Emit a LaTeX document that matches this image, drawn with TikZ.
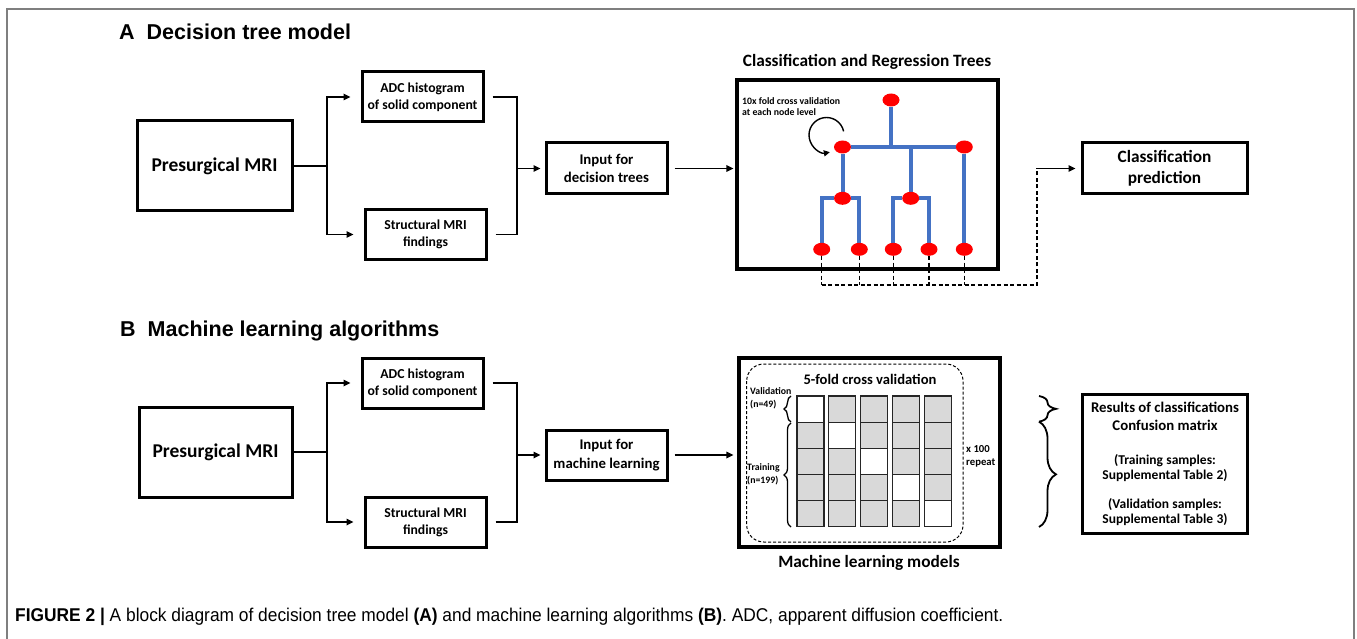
\documentclass[tikz,border=0pt]{standalone}
\usepackage{fontspec}
\usepackage{graphicx}
\newfontfamily\carl{Carlito}
\newfontfamily\arl{Liberation Sans}
\usetikzlibrary{arrows.meta,shapes.geometric,decorations.pathreplacing,backgrounds}
\definecolor{treeblue}{HTML}{4472C4}
\definecolor{cellgray}{HTML}{D9D9D9}
\definecolor{framegray}{HTML}{7F7F7F}
\newcommand\fBig{\carl\bfseries\fontsize{19.5}{23}\selectfont}
\newcommand\fMid{\carl\bfseries\fontsize{13.7}{16.7}\selectfont}
\newcommand\fIn{\carl\bfseries\fontsize{14.8}{18.3}\selectfont}
\newcommand\fHead{\carl\bfseries\fontsize{17.3}{20.7}\selectfont}
\newcommand\fTiny{\carl\bfseries\fontsize{9.8}{11.7}\selectfont}
\newcommand\fSmallLbl{\carl\bfseries\fontsize{9.8}{13}\selectfont}
\begin{document}
\begin{tikzpicture}[x=1pt,y=1pt,
  box/.style={draw, line width=3pt, rectangle, inner sep=0pt, align=center},
  conn/.style={line width=1.6pt},
  arr/.style={conn, -{Triangle[length=7pt,width=6.5pt]}},
  treeline/.style={line width=4pt, draw=treeblue},
  treenode/.style={ellipse, fill=red, inner sep=0pt, minimum width=17pt, minimum height=13pt},
  dline/.style={line width=1.5pt, dash pattern=on 4pt off 2.5pt},
  cell/.style={draw=black!85, line width=1.2pt, fill=cellgray},
  lbrace/.style={decorate, decoration={brace, amplitude=7pt}, line width=1.3pt},
  rbrace/.style={decorate, decoration={brace, amplitude=17pt}, line width=1.8pt},
  title/.style={anchor=base west, inner sep=0pt, font=\arl\bfseries\fontsize{21.5}{26}\selectfont}
]
\useasboundingbox (0,0) rectangle (1357,-639);
\begin{scope}[on background layer]
\fill[white] (0,0) rectangle (1357,-639);
\end{scope}
% frame
\draw[line width=1.3pt, framegray] (7,-639) -- (7,-9) -- (1354,-9) -- (1354,-639);

% ================= A =================
\node[title] (tA) at (119,-40) {A\hspace{12pt}Decision tree model};

\node[box, minimum width=155pt, minimum height=90pt, font=\fBig] (pA) at (214.5,-166) {Presurgical MRI};
\node[box, minimum width=121pt, minimum height=50pt, font=\fMid] (adcA) at (422.5,-97) {ADC histogram\\of solid component};
\node[box, minimum width=121pt, minimum height=49pt, font=\fMid] (strA) at (425.5,-234.5) {Structural MRI\\findings};
\node[box, minimum width=121pt, minimum height=51pt, font=\fIn] (inA) at (606.5,-168.5) {Input for\\decision trees};
\node[box, line width=3.2pt, minimum width=261pt, minimum height=189pt] (cart) at (867.5,-174.5) {};
\node[box, minimum width=165pt, minimum height=51pt, font=\fHead] (cpA) at (1164.5,-168.5) {Classification\\prediction};
\node[inner sep=0pt, font=\fHead] (cartT) at (867,-62) {Classification and Regression Trees};

\coordinate (sA) at (327,-166);
\draw[conn] (pA.east) -- (sA);
\draw[arr, shorten >=10pt] (sA) |- (adcA.west);
\draw[arr, shorten >=10pt] (sA) |- (strA.west);
\coordinate (mA) at (517,-168.5);
\draw[conn, shorten <=8pt] (adcA.east) -| (mA);
\draw[conn, shorten <=8pt] (strA.east) -| (mA);
\draw[arr, shorten >=4pt] (mA) -- (inA.west);
\draw[arr, shorten <=6pt, shorten >=2pt] (inA.east) -- (inA.east -| cart.west);

% tree
\node[treenode] (root) at (891,-100) {};
\node[treenode] (l2a) at (842.5,-147) {};
\node[treenode] (l2b) at (964.3,-147) {};
\node[treenode] (l3a) at (842.5,-198.3) {};
\node[treenode] (l3b) at (910.7,-198.3) {};
\node[treenode] (lf1) at (821.7,-249.3) {};
\node[treenode] (lf2) at (859.3,-249.3) {};
\node[treenode] (lf3) at (893.3,-249.3) {};
\node[treenode] (lf4) at (929,-249.3) {};
\node[treenode] (lf5) at (964.3,-249.3) {};
\begin{scope}[on background layer]
\draw[treeline] (root) -- (root |- l2a);
\draw[treeline] (l2a) -- (l2b);
\draw[treeline] (l2a) -- (l3a);
\draw[treeline] (l3b |- l2a) -- (l3b);
\draw[treeline] (l2b) -- (lf5);
\draw[treeline] (lf1) |- (l3a) -| (lf2);
\draw[treeline] (lf3) |- (l3b) -| (lf4);
\end{scope}

\coordinate (loopc) at (826.5,-135);
\draw[line width=1.4pt, -{Triangle[length=6pt,width=6pt]}] (loopc) ++(12:17.5) arc[start angle=12, end angle=281, radius=17.5];
\node[anchor=west, align=left, inner sep=0pt, font=\fTiny] (cvnote) at (742,-106.5) {10x fold cross validation\\at each node level};

\coordinate (dA) at (1037,-285);
\foreach \n in {lf1,lf2,lf3,lf4,lf5}{\draw[dline] (\n.south) -- (\n |- dA);}
\draw[dline] (lf1 |- dA) -- (dA) -- (dA |- cpA.west);
\draw[arr, line width=1.5pt, shorten >=5pt] (dA |- cpA.west) -- (cpA.west);

% ================= B =================
\node[title] (tB) at (120,-336) {B\hspace{12pt}Machine learning algorithms};

\node[box, minimum width=153pt, minimum height=90pt, font=\fBig] (pB) at (215.5,-452) {Presurgical MRI};
\node[box, minimum width=121pt, minimum height=50pt, font=\fMid] (adcB) at (422.5,-383) {ADC histogram\\of solid component};
\node[box, minimum width=121pt, minimum height=50pt, font=\fMid] (strB) at (425.5,-522) {Structural MRI\\findings};
\node[box, minimum width=121pt, minimum height=50pt, font=\fIn] (inB) at (606.5,-455) {Input for\\machine learning};
\node[box, line width=3.2pt, minimum width=261pt, minimum height=189pt] (ml) at (869.5,-452.5) {};
\node[inner sep=0pt, font=\fHead] (mlT) at (869,-563.3) {Machine learning models};

\coordinate (sB) at (327,-452);
\draw[conn] (pB.east) -- (sB);
\draw[arr, shorten >=10pt] (sB) |- (adcB.west);
\draw[arr, shorten >=10pt] (sB) |- (strB.west);
\coordinate (mB) at (517,-455);
\draw[conn, shorten <=8pt] (adcB.east) -| (mB);
\draw[conn, shorten <=8pt] (strB.east) -| (mB);
\draw[arr, shorten >=4pt] (mB) -- (inB.west);
\draw[arr, shorten <=6pt, shorten >=4pt] (inB.east) -- (inB.east -| ml.west);

% 5-fold CV inner panel
\draw[line width=1pt, dash pattern=on 3pt off 2pt, rounded corners=17pt] (746.7,-364) rectangle (963,-542);
\node[inner sep=0pt, font=\carl\bfseries\fontsize{14.6}{17}\selectfont] (cvT) at (870,-379) {5-fold cross validation};
\foreach \i in {0,...,4}{\foreach \j in {0,...,4}{\draw[cell] ({797+31.8*\i},{-396-26.14*\j}) rectangle ++(27,-26.14);}}
\foreach \i in {0,...,4}{\draw[cell, fill=white] ({797+31.8*\i},{-396-26.14*\i}) rectangle ++(27,-26.14);}
\draw[lbrace] (791,-422) -- (791,-396);
\draw[lbrace] (791,-527) -- (791,-423);
\node[anchor=west, align=left, inner sep=0pt, font=\fSmallLbl] (valT) at (750,-398.5) {Validation\\(n=49)};
\node[anchor=west, align=left, inner sep=0pt, font=\fSmallLbl] (trT) at (747,-474) {Training\\(n=199)};
\node[anchor=west, align=left, inner sep=0pt, font=\carl\bfseries\fontsize{10.7}{12.7}\selectfont] (repT) at (966,-456.5) {x 100\\repeat};

% results
\draw[rbrace] (1039,-396) -- (1039,-421.7);
\draw[rbrace] (1039,-421.7) -- (1039,-527);
\node[box, minimum width=165.5pt, minimum height=139pt, text width=160pt, align=center] (rb) at (1165,-463.8) {%
{\carl\bfseries\fontsize{14.8}{17.7}\selectfont Results of classifications\\Confusion matrix\par}
\vspace{19pt}
{\carl\bfseries\fontsize{13.5}{15}\selectfont (Training samples:\\Supplemental Table 2)\par}
\vspace{14pt}
{\carl\bfseries\fontsize{13.5}{15}\selectfont (Validation samples:\\Supplemental Table 3)\par}};

% caption
\node[anchor=base west, inner sep=0pt] (cap) at (15,-621.5) {\resizebox{988pt}{\height}{\arl\fontsize{18.5}{22}\selectfont\textbf{FIGURE 2 |} A block diagram of decision tree model \textbf{(A)} and machine learning algorithms \textbf{(B)}. ADC, apparent diffusion coefficient.}};
\end{tikzpicture}
\end{document}
